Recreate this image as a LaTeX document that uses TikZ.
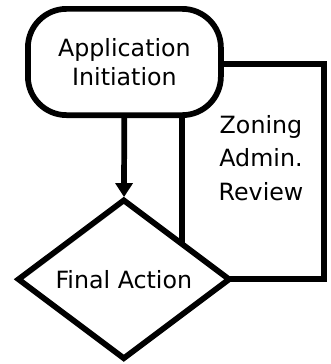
\documentclass[tikz,border=0pt]{standalone}
\usepackage{fontspec}
\setmainfont{DejaVu Sans}
\usepackage{tikz}
\usetikzlibrary{shapes.geometric,arrows.meta}

\begin{document}
\begin{tikzpicture}[x=0.75pt, y=-0.75pt,
    flowline/.style={line width=4.3pt},
    startbox/.style={draw, line width=4.3pt, rectangle, rounded corners=29pt, minimum width=144.75pt, minimum height=79.7pt, outer sep=0pt, align=center, font=\fontsize{17.8}{21.8}\selectfont},
    decision/.style={draw, line width=4.3pt, diamond, minimum width=157.9pt, minimum height=118.4pt, inner sep=0pt, outer sep=0pt, font=\fontsize{17.8}{21.8}\selectfont},
    steplabel/.style={align=center, font=\fontsize{17.8}{25}\selectfont}]
    \useasboundingbox (0,0) rectangle (330,364);

    % Start
    \node[startbox] (init) at (124.4,62) {Application\\Initiation};

    % Decision
    \node[decision] (final) at (123.8,279.3) {Final Action};

    % Review loop
    \node[steplabel] (review) at (261,158) {Zoning\\Admin.\\Review};
    \coordinate (corner) at (324.3,64);

    \draw[flowline, shorten >=2.6pt, -{Triangle[length=10.5pt, width=12.75pt]}] (init) -- (final);
    \draw[flowline] (final.31) -- (final.31 |- init.south);
    \draw[flowline] (init.east |- corner) -- (corner) -- (corner |- final.east) -- (final.east);
\end{tikzpicture}
\end{document}
